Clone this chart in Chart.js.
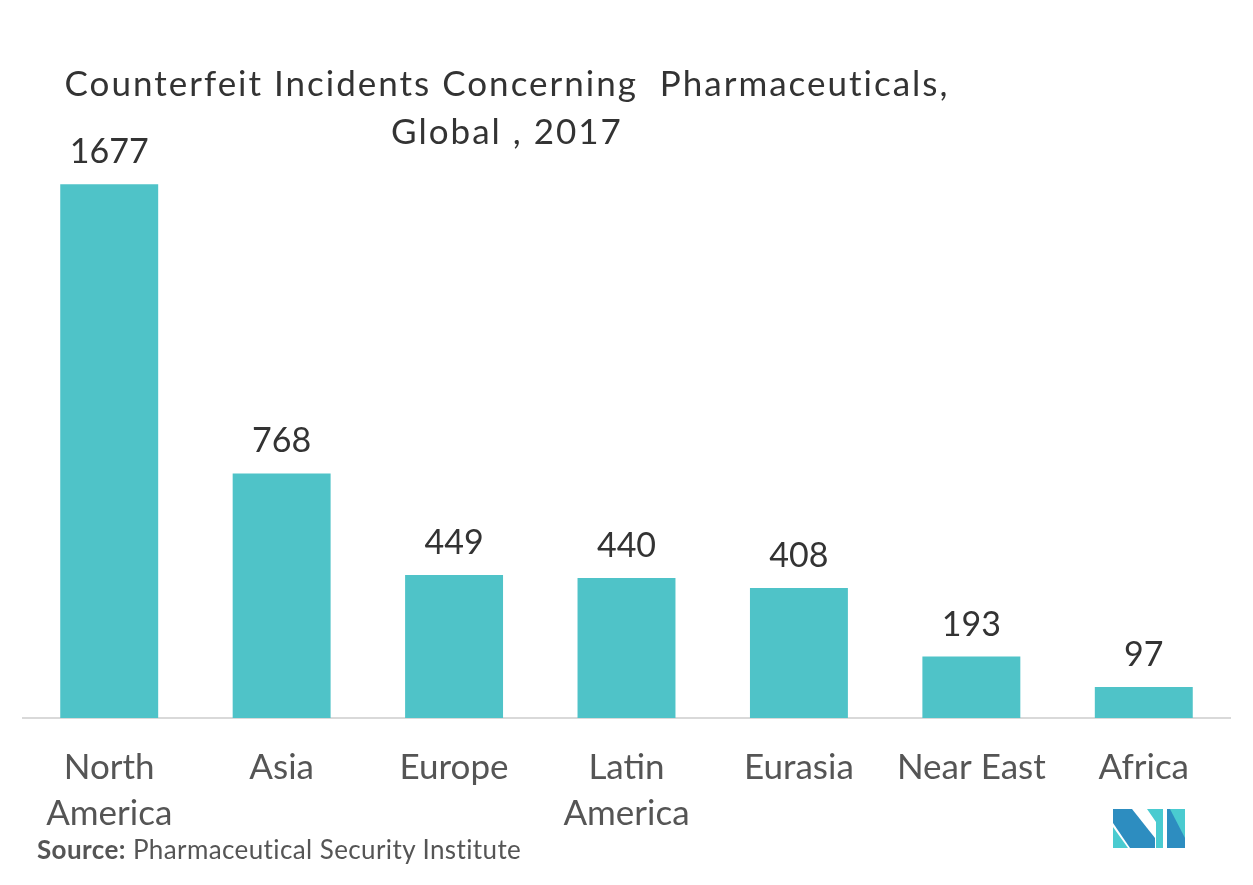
<!DOCTYPE html>
<html>
<head>
<meta charset="utf-8">
<script src="https://cdn.jsdelivr.net/npm/chart.js@4"></script>
<style>
  html, body { margin: 0; padding: 0; background: #fff; }
  #wrap { position: relative; width: 1253px; height: 885px; font-family: Lato, "Open Sans", sans-serif; }
  #title { position: absolute; left: 20px; top: 58px; width: 974px; text-align: center;
           font-size: 35px; line-height: 48px; color: #333; letter-spacing: 2px; }
  #source { position: absolute; left: 37px; top: 833px; font-size: 26px; color: #555; letter-spacing: 0.4px; }
  #logo { position: absolute; left: 0; top: 0; }
  canvas { position: absolute; left: 0; top: 0; }
</style>
</head>
<body>
<div id="wrap">
  <canvas id="chart" width="1253" height="885"></canvas>
  <div id="title">Counterfeit Incidents Concerning&nbsp; Pharmaceuticals,<br>Global , 2017</div>
  <div id="source"><b>Source:</b> Pharmaceutical Security Institute</div>
  <svg id="logo" width="1253" height="885" viewBox="0 0 1253 885">
    <polygon points="1113,827 1113,848 1128,848" fill="#4ACBD0"/>
    <polygon points="1113,809 1132,809 1155,838 1155,848 1130,848 1113,823" fill="#2D8DC0"/>
    <polygon points="1147,809 1163,809 1163,848 1156,848 1156,822" fill="#4ACBD0"/>
    <rect x="1167" y="809" width="18" height="39" fill="#2D8DC0"/>
    <polygon points="1170,809 1185,809 1185,838" fill="#4ACBD0"/>
  </svg>
</div>
<script>
// values
const categories = [["North", "America"], ["Asia"], ["Europe"], ["Latin", "America"], ["Eurasia"], ["Near East"], ["Africa"]];
const incidents = [1677, 768, 449, 440, 408, 193, 97];

const BAR_COLOR = "#4FC3C8";

// draws the number above each bar
const valueLabels = {
  id: "valueLabels",
  afterDatasetsDraw(chart) {
    const ctx = chart.ctx;
    const meta = chart.getDatasetMeta(0);
    ctx.save();
    ctx.font = "34px Lato, 'Open Sans', sans-serif";
    ctx.fillStyle = "#333";
    ctx.textAlign = "center";
    ctx.textBaseline = "middle";
    meta.data.forEach((bar, i) => {
      ctx.fillText(String(incidents[i]), bar.x, bar.y - 32);
    });
    ctx.restore();
  }
};

new Chart(document.getElementById("chart").getContext("2d"), {
  type: "bar",
  data: {
    labels: categories,
    datasets: [{
      data: incidents,
      backgroundColor: BAR_COLOR,
      borderWidth: 0,
      barPercentage: 0.568,
      categoryPercentage: 1,
    }]
  },
  options: {
    responsive: false,
    animation: false,
    devicePixelRatio: 1,
    layout: { padding: { left: 23, right: 23, top: 145, bottom: 42 } },
    plugins: { legend: { display: false }, tooltip: { enabled: false }, title: { display: false } },
    scales: {
      x: {
        grid: { display: false, drawTicks: false },
        border: { display: true, color: "#d9d9d9", width: 2 },
        ticks: {
          color: "#555",
          padding: 27,
          font: { family: "Lato, 'Open Sans', sans-serif", size: 35, lineHeight: 1.3 },
          maxRotation: 0,
          autoSkip: false,
        },
        afterFit: (scale) => { scale.height = 125; }
      },
      y: {
        display: false,
        min: 0,
        max: 1800,
      }
    }
  },
  plugins: [valueLabels]
});
</script>
</body>
</html>
